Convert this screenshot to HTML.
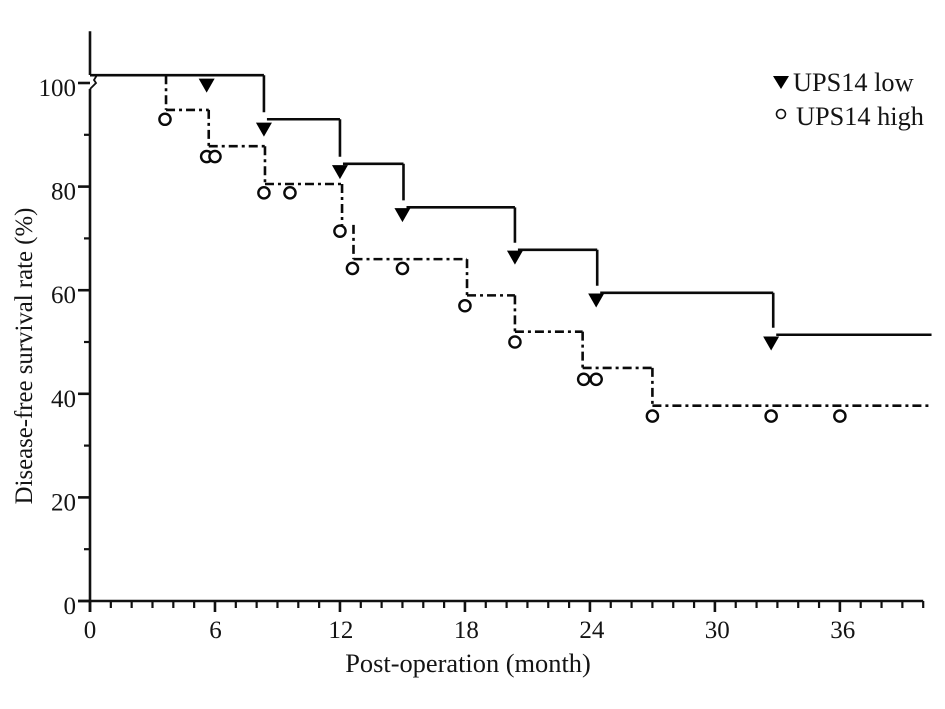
<!DOCTYPE html>
<html><head><meta charset="utf-8"><title>Disease-free survival</title>
<style>
html,body{margin:0;padding:0;background:#fff}
svg{display:block}
text{font-family:"Liberation Serif",serif;fill:#141414}
</style></head>
<body>
<svg id="chart" width="945" height="709" viewBox="0 0 945 709" xmlns="http://www.w3.org/2000/svg">
<rect width="945" height="709" fill="#fff"/>
<text x="468" y="672" font-size="26.4" text-anchor="middle">Post-operation (month)</text>
<text transform="translate(32,356) rotate(-90)" font-size="24.8" text-anchor="middle">Disease-free survival rate (%)</text>
<g>
<polygon points="773,76 789,76 781,89" fill="#000"/>
<text x="793" y="91" font-size="26.3">UPS14 low</text>
<circle cx="781" cy="114" r="4.5" fill="#fff" stroke="#111" stroke-width="1.6"/>
<text x="796" y="125" font-size="26.3">UPS14 high</text>
</g>
</svg>
<script>
const xTicks = [0, 6, 12, 18, 24, 30, 36];
const yTicks = [0, 20, 40, 60, 80, 100];
const lowDropMonths = [8.35, 12, 15.05, 20.4, 24.35, 32.8];
const lowSurvival = [101.5, 93, 84.4, 76, 67.8, 59.5, 51.4];
const lowCensored = [[5.6, 99.5], [8.35, 91], [12, 82.8], [15, 74.5], [20.4, 66.3], [24.3, 58], [32.7, 49.7]];
const highDropMonths = [3.65, 5.7, 8.4, 12.1, 12.65, 18.1, 20.4, 23.65, 27];
const highSurvival = [101.5, 94.8, 87.8, 80.5, 72.6, 66, 59, 52, 45, 37.7];
const highHiddenRuns = [0, 4];
const highCensored = [[3.6, 93], [5.6, 85.8], [6, 85.8], [8.35, 78.8], [9.6, 78.8], [12, 71.4], [12.6, 64.2], [15, 64.2], [18, 57], [20.4, 50], [23.7, 42.8], [24.3, 42.8], [27, 35.7], [32.7, 35.7], [36, 35.7]];
const curveEndMonth = 40.4;
const xAxisMax = 40;
const yAxisMax = 110;

const NS = 'http://www.w3.org/2000/svg';
const svg = document.getElementById('chart');
const xPos = m => 90 + m * 20.83;
const yPos = v => 601 - v * 5.18;

function make(tag, attrs, parent) {
  const el = document.createElementNS(NS, tag);
  for (const k in attrs) el.setAttribute(k, attrs[k]);
  (parent || svg).appendChild(el);
  return el;
}

// axes
const axisGroup = make('g', { stroke: '#111', 'stroke-width': 2.6, fill: 'none' });



const yAxisLine = make('path', {
  d: `M90 ${yPos(yAxisMax)} V${yPos(100) - 8} M90 ${yPos(100) + 6} V612`
}, axisGroup);



const axisBreak = make('path', {
  d: `M90 ${yPos(100) - 8} H97 L94 ${yPos(100) - 3} L96 ${yPos(100)} L90 ${yPos(100) + 6}`,
  'stroke-width': 1.8
}, axisGroup);



const xAxisLine = make('path', { d: `M78 ${yPos(0)} H${xPos(xAxisMax)}` }, axisGroup);



for (let m = 1; m <= xAxisMax; m++) {
  if (xTicks.includes(m)) continue;
  const t = make('path', { d: `M${xPos(m)} ${yPos(0)} v7`, 'stroke-width': 2.2 }, axisGroup);
  
  
}
xTicks.forEach(m => {
  const t = make('path', { d: `M${xPos(m)} ${yPos(0)} V612` }, axisGroup);
  
  
  const label = make('text', { x: xPos(m) + m * 0.08, y: 638, 'font-size': 25, 'text-anchor': 'middle' });
  label.textContent = m;
  
  
});
yTicks.forEach((v, i) => {
  const t = make('path', { d: `M78 ${yPos(v)} H90` }, axisGroup);
  
  
  const label = make('text', { x: 76, y: yPos(v) + 13, 'font-size': 25, 'text-anchor': 'end' });
  label.textContent = v;
  
  
  if (i < yTicks.length - 1) {
    const mid = make('path', { d: `M84 ${yPos((v + yTicks[i + 1]) / 2)} H90`, 'stroke-width': 2.2 }, axisGroup);
    
    
  }
});

// solid step curve, with the small breaks the original shows before each new level
let lowD = '';
lowSurvival.forEach((v, i) => {
  const from = i === 0 ? 0 : lowDropMonths[i - 1];
  const to = i < lowDropMonths.length ? lowDropMonths[i] : curveEndMonth;
  lowD += `M${xPos(from) + (i > 0 ? 3 : 0)} ${yPos(v)} H${xPos(to)} `;
  if (i < lowDropMonths.length) {
    lowD += `M${xPos(to)} ${yPos(v)} V${yPos(lowSurvival[i + 1]) - 7} `;
  }
});
const lowCurve = make('path', { d: lowD, fill: 'none', stroke: '#0a0a0a', 'stroke-width': 2.6 });



// dash-dot step curve
const highGroup = make('g', { fill: 'none', stroke: '#0a0a0a', 'stroke-width': 2.6, 'stroke-dasharray': '9 4 3 4' });


highSurvival.forEach((val, i) => {
  const startM = i === 0 ? highDropMonths[0] : highDropMonths[i - 1];
  const endM = i < highDropMonths.length ? highDropMonths[i] : curveEndMonth;
  if (!highHiddenRuns.includes(i)) {
    const h = make('path', { d: `M${xPos(startM)} ${yPos(val)} H${xPos(endM)}` }, highGroup);
    
    
  }
  if (i < highDropMonths.length) {
    const v = make('path', { d: `M${xPos(endM)} ${yPos(val)} V${yPos(highSurvival[i + 1])}` }, highGroup);
    
    
  }
});

// censor markers
lowCensored.forEach(p => {
  const x = xPos(p[0]), y = yPos(p[1]);
  const tri = make('polygon', { points: `${x - 8},${y - 7} ${x + 8},${y - 7} ${x},${y + 7}`, fill: '#000' });
  
  
});
highCensored.forEach(p => {
  const c = make('circle', { cx: xPos(p[0]), cy: yPos(p[1]), r: 5.6, fill: '#fff', stroke: '#0a0a0a', 'stroke-width': 2.4 });
  
  
});
</script>
</body></html>
